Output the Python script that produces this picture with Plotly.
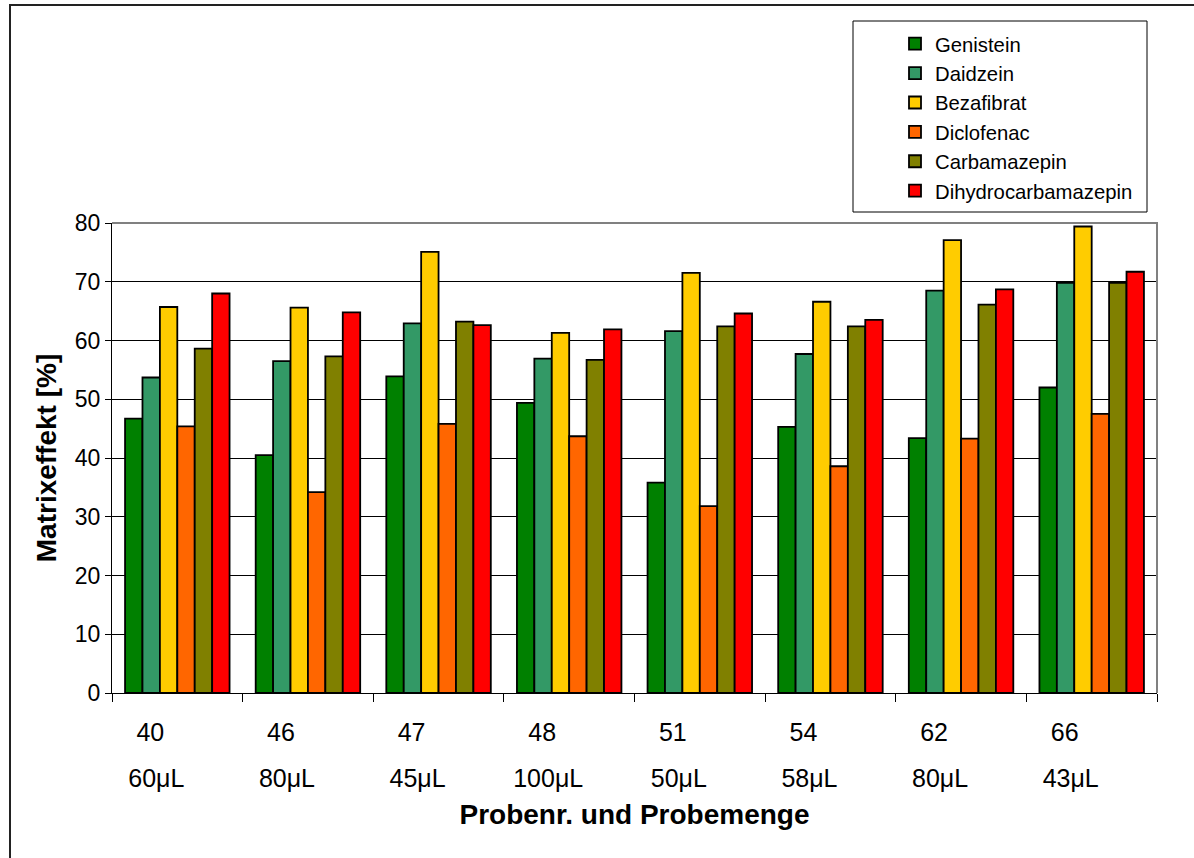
import plotly.graph_objects as go

# Sample numbers and sample volumes (two-line category labels)
samples = ["40", "46", "47", "48", "51", "54", "62", "66"]
volumes = ["60μL", "80μL", "45μL", "100μL", "50μL", "58μL", "80μL", "43μL"]

# Matrix effect [%] per compound
genistein = [46.7, 40.5, 53.9, 49.4, 35.8, 45.3, 43.4, 52.0]
daidzein = [53.7, 56.5, 62.9, 56.9, 61.6, 57.7, 68.5, 69.8]
bezafibrat = [65.7, 65.6, 75.1, 61.3, 71.5, 66.6, 77.1, 79.4]
diclofenac = [45.4, 34.2, 45.8, 43.7, 31.8, 38.6, 43.3, 47.5]
carbamazepin = [58.6, 57.3, 63.2, 56.7, 62.4, 62.4, 66.1, 69.8]
dihydrocarbamazepin = [68.0, 64.8, 62.6, 61.9, 64.6, 63.5, 68.7, 71.7]

series = [
    ("Genistein", genistein, "#008000"),
    ("Daidzein", daidzein, "#339966"),
    ("Bezafibrat", bezafibrat, "#FFCC00"),
    ("Diclofenac", diclofenac, "#FF6600"),
    ("Carbamazepin", carbamazepin, "#808000"),
    ("Dihydrocarbamazepin", dihydrocarbamazepin, "#FF0000"),
]

W, H = 1194, 858
L, R, T, B = 112, 1157, 223, 693  # plot area in pixels


def px(x):
    return (x - L) / (R - L)


def py(y):
    return (B - y) / (B - T)


FONT = "Liberation Sans, Arial, sans-serif"

fig = go.Figure()
for name, vals, color in series:
    fig.add_trace(go.Bar(
        x=samples, y=vals, name=name,
        marker=dict(color=color, line=dict(color="black", width=1.8)),
    ))

# carrier trace for the second row of category labels
fig.add_trace(go.Scatter(
    x=samples, y=[None] * len(samples), xaxis="x2", yaxis="y",
    showlegend=False, hoverinfo="skip", mode="markers",
))

fig.update_layout(
    width=W, height=H,
    margin=dict(l=L, r=W - R, t=T, b=H - B, pad=0),
    paper_bgcolor="white", plot_bgcolor="white",
    barmode="group", bargap=0.2, bargroupgap=0,
    font=dict(family=FONT, size=24, color="black"),
    showlegend=True,
    legend=dict(
        x=px(895), y=py(24), xanchor="left", yanchor="top",
        bgcolor="rgba(0,0,0,0)", borderwidth=0,
        font=dict(family=FONT, size=20.3, color="black"),
        tracegroupgap=0,
    ),
    xaxis=dict(
        type="category", categoryorder="array", categoryarray=samples,
        range=[-0.5, len(samples) - 0.5],
        tickson="boundaries", ticks="outside", ticklen=8, tickcolor="black",
        showline=True, linecolor="black", linewidth=1,
        showgrid=False, zeroline=False,
        tickfont=dict(family=FONT, size=25),
        ticklabelshift=-27, ticklabelstandoff=17,
        title=dict(text="<b>Probenr. und Probemenge</b>",
                   font=dict(family=FONT, size=28), standoff=59),
    ),
    xaxis2=dict(
        type="category", categoryorder="array", categoryarray=samples,
        range=[-0.5, len(samples) - 0.5],
        overlaying="x", anchor="y", side="bottom",
        tickmode="array", tickvals=samples, ticktext=volumes,
        ticks="", showline=False, showgrid=False, zeroline=False,
        tickfont=dict(family=FONT, size=25),
        ticklabelshift=-21, ticklabelstandoff=68,
    ),
    yaxis=dict(
        range=[0, 80], dtick=10, tick0=0,
        ticks="outside", ticklen=6, tickcolor="black",
        showline=True, linecolor="black", linewidth=1,
        showgrid=True, gridcolor="black", gridwidth=1,
        zeroline=False,
        tickfont=dict(family=FONT, size=23),
        title=dict(text="<b>Matrixeffekt [%]</b>",
                   font=dict(family=FONT, size=28), standoff=10),
    ),
    shapes=[
        # plot area frame (top and right edges)
        dict(type="path", xref="paper", yref="paper",
             path="M 0,1 L 1,1 L 1,0",
             line=dict(color="#808080", width=2), layer="above"),
        # legend box
        dict(type="rect", xref="paper", yref="paper",
             x0=px(853), x1=px(1147), y0=py(212), y1=py(21),
             line=dict(color="black", width=1), fillcolor="rgba(0,0,0,0)"),
        # chart frame
        dict(type="rect", xref="paper", yref="paper",
             x0=px(10), x1=px(1260), y0=py(920), y1=py(5),
             line=dict(color="#222222", width=2), fillcolor="rgba(0,0,0,0)"),
    ],
)

fig.write_html("out.html")
